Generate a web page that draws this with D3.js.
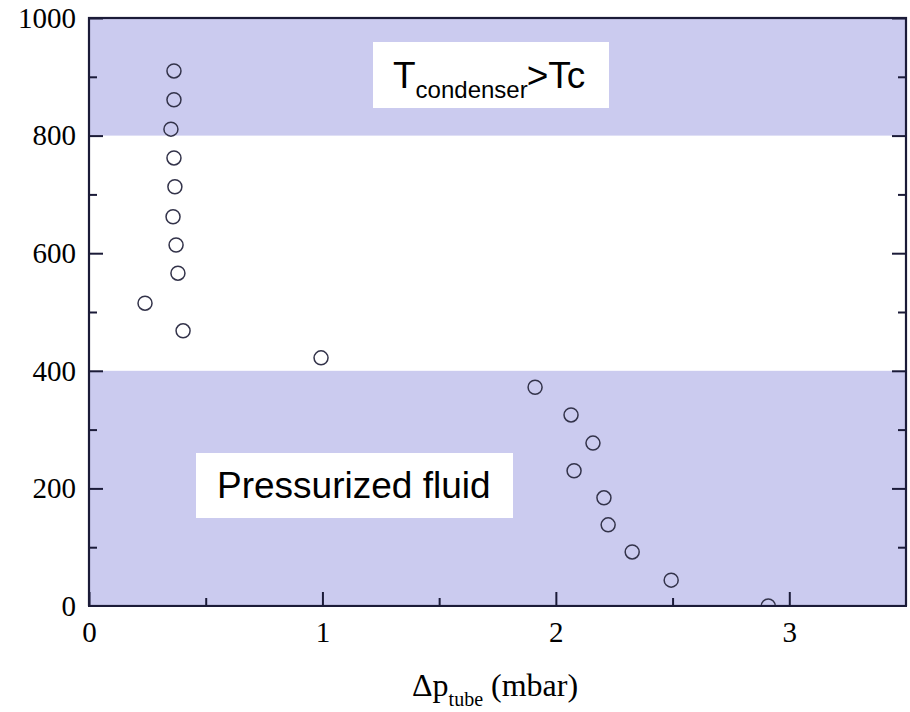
<!DOCTYPE html>
<html>
<head>
<meta charset="utf-8">
<script src="https://cdn.jsdelivr.net/npm/d3@7/dist/d3.min.js"></script>
<style>
  html, body { margin: 0; padding: 0; background: #fff; }
  svg { display: block; }
</style>
</head>
<body>
<svg id="chart" width="910" height="712"></svg>
<script>
// Measured points: pressure drop across the tube (mbar) vs. the y quantity
const dpTube = [0.364, 0.364, 0.351, 0.364, 0.368, 0.360, 0.373, 0.381, 0.240, 0.403,
                0.994, 1.911, 2.065, 2.159, 2.078, 2.206, 2.224, 2.327, 2.494, 2.910];
const yValues = [910, 861, 811, 762, 713, 662, 614, 566, 515, 468,
                 422, 372, 325, 277, 230, 184, 138, 92, 44, 0];

// Shaded regimes: [from, to] on the y axis
const bandStarts = [800, 0];
const bandEnds = [1000, 400];

// Region labels
const regionLabels = ["T|condenser|>Tc", "Pressurized fluid"];

const xMajorTicks = [0, 1, 2, 3];
const xMinorTicks = [0.5, 1.5, 2.5];
const yMajorTicks = [0, 200, 400, 600, 800, 1000];
const yMinorTicks = [100, 300, 500, 700, 900];

const svg = d3.select("#chart");
const mLeft = 89, mRight = 906, mTop = 18, mBottom = 606;

const x = d3.scaleLinear().domain([0, 3.5]).range([mLeft, mRight]);
const y = d3.scaleLinear().domain([0, 1000]).range([mBottom, mTop]);

const axisColor = "#1b1b38";
const bandColor = "#cbcbef";

// Shaded bands
svg.append("g").selectAll("rect")
  .data(bandStarts.map((s, i) => ({ s, e: bandEnds[i] })))
  .join("rect")
  .attr("x", x(0) - 1)
  .attr("width", x(3.5) - x(0) + 1)
  .attr("y", d => y(d.e))
  .attr("height", d => y(d.s) - y(d.e))
  .attr("fill", bandColor);

// White label boxes
const boxes = [
  { x: 373, w: 236, y: 42, h: 66 },
  { x: 196, w: 317, y: 453, h: 65 }
];
svg.append("g").selectAll("rect")
  .data(boxes)
  .join("rect")
  .attr("x", d => d.x)
  .attr("y", d => d.y)
  .attr("width", d => d.w)
  .attr("height", d => d.h)
  .attr("fill", "#fff");

const sans = "'Liberation Sans', Arial, sans-serif";
const serif = "'Liberation Serif', 'Times New Roman', serif";

// "T_condenser>Tc"
{
  const parts = regionLabels[0].split("|");
  const t = svg.append("text")
    .attr("x", 393)
    .attr("y", 88)
    .attr("font-family", sans)
    .attr("font-size", 37)
    .attr("fill", "#000");
  t.append("tspan").text(parts[0]);
  t.append("tspan").attr("font-size", 24).attr("dy", 10).text(parts[1]);
  t.append("tspan").attr("dy", -10).attr("dx", -1).text(parts[2]);
}

// "Pressurized fluid"
svg.append("text")
  .attr("x", 217)
  .attr("y", 498)
  .attr("font-family", sans)
  .attr("font-size", 37)
  .attr("fill", "#000")
  .text(regionLabels[1]);

// Axes: ticks point inward
function styleAxis(g) {
  g.select(".domain").remove();
  g.selectAll(".tick line").attr("stroke", axisColor).attr("stroke-width", 2);
  g.selectAll(".tick text")
    .attr("font-family", serif)
    .attr("font-size", 29)
    .attr("fill", "#000");
}

svg.append("g")
  .attr("transform", `translate(${mLeft},0)`)
  .call(d3.axisLeft(y).tickValues(yMajorTicks).tickSize(-14).tickPadding(13).tickFormat(d3.format("d")))
  .call(styleAxis);
svg.append("g")
  .attr("transform", `translate(${mLeft},0)`)
  .call(d3.axisLeft(y).tickValues(yMinorTicks).tickSize(-8).tickFormat(""))
  .call(styleAxis);

svg.append("g")
  .attr("transform", `translate(${mRight},0)`)
  .call(d3.axisRight(y).tickValues(yMajorTicks).tickSize(-14).tickFormat(""))
  .call(styleAxis);
svg.append("g")
  .attr("transform", `translate(${mRight},0)`)
  .call(d3.axisRight(y).tickValues(yMinorTicks).tickSize(-8).tickFormat(""))
  .call(styleAxis);

svg.append("g")
  .attr("transform", `translate(0,${mBottom})`)
  .call(d3.axisBottom(x).tickValues(xMajorTicks).tickSize(-14).tickPadding(15).tickFormat(d3.format("d")))
  .call(styleAxis);
svg.append("g")
  .attr("transform", `translate(0,${mBottom})`)
  .call(d3.axisBottom(x).tickValues(xMinorTicks).tickSize(-8).tickFormat(""))
  .call(styleAxis);

// Frame
svg.append("rect")
  .attr("x", mLeft).attr("y", mTop)
  .attr("width", mRight - mLeft).attr("height", mBottom - mTop)
  .attr("fill", "none")
  .attr("stroke", axisColor)
  .attr("stroke-width", 2.2);

// Data points (open circles)
svg.append("g").selectAll("circle")
  .data(dpTube.map((d, i) => [d, yValues[i]]))
  .join("circle")
  .attr("cx", d => x(d[0]))
  .attr("cy", d => y(d[1]))
  .attr("r", 7)
  .attr("fill", "none")
  .attr("stroke", "#33334a")
  .attr("stroke-width", 1.5);

// Bottom frame line over the half-visible point at y = 0
svg.append("rect")
  .attr("x", mLeft - 2).attr("y", mBottom)
  .attr("width", mRight - mLeft + 4).attr("height", 10)
  .attr("fill", "#fff");
svg.append("line")
  .attr("x1", mLeft - 1).attr("x2", mRight + 1)
  .attr("y1", mBottom).attr("y2", mBottom)
  .attr("stroke", axisColor).attr("stroke-width", 2.2);

// X axis title: Δp_tube (mbar)
{
  const t = svg.append("text")
    .attr("x", 412)
    .attr("y", 696)
    .attr("font-family", serif)
    .attr("font-size", 32)
    .attr("fill", "#000");
  t.append("tspan").text("Δp");
  t.append("tspan").attr("font-size", 20).attr("dy", 10).text("tube");
  t.append("tspan").attr("dy", -10).text(" (mbar)");
}
</script>
</body>
</html>
